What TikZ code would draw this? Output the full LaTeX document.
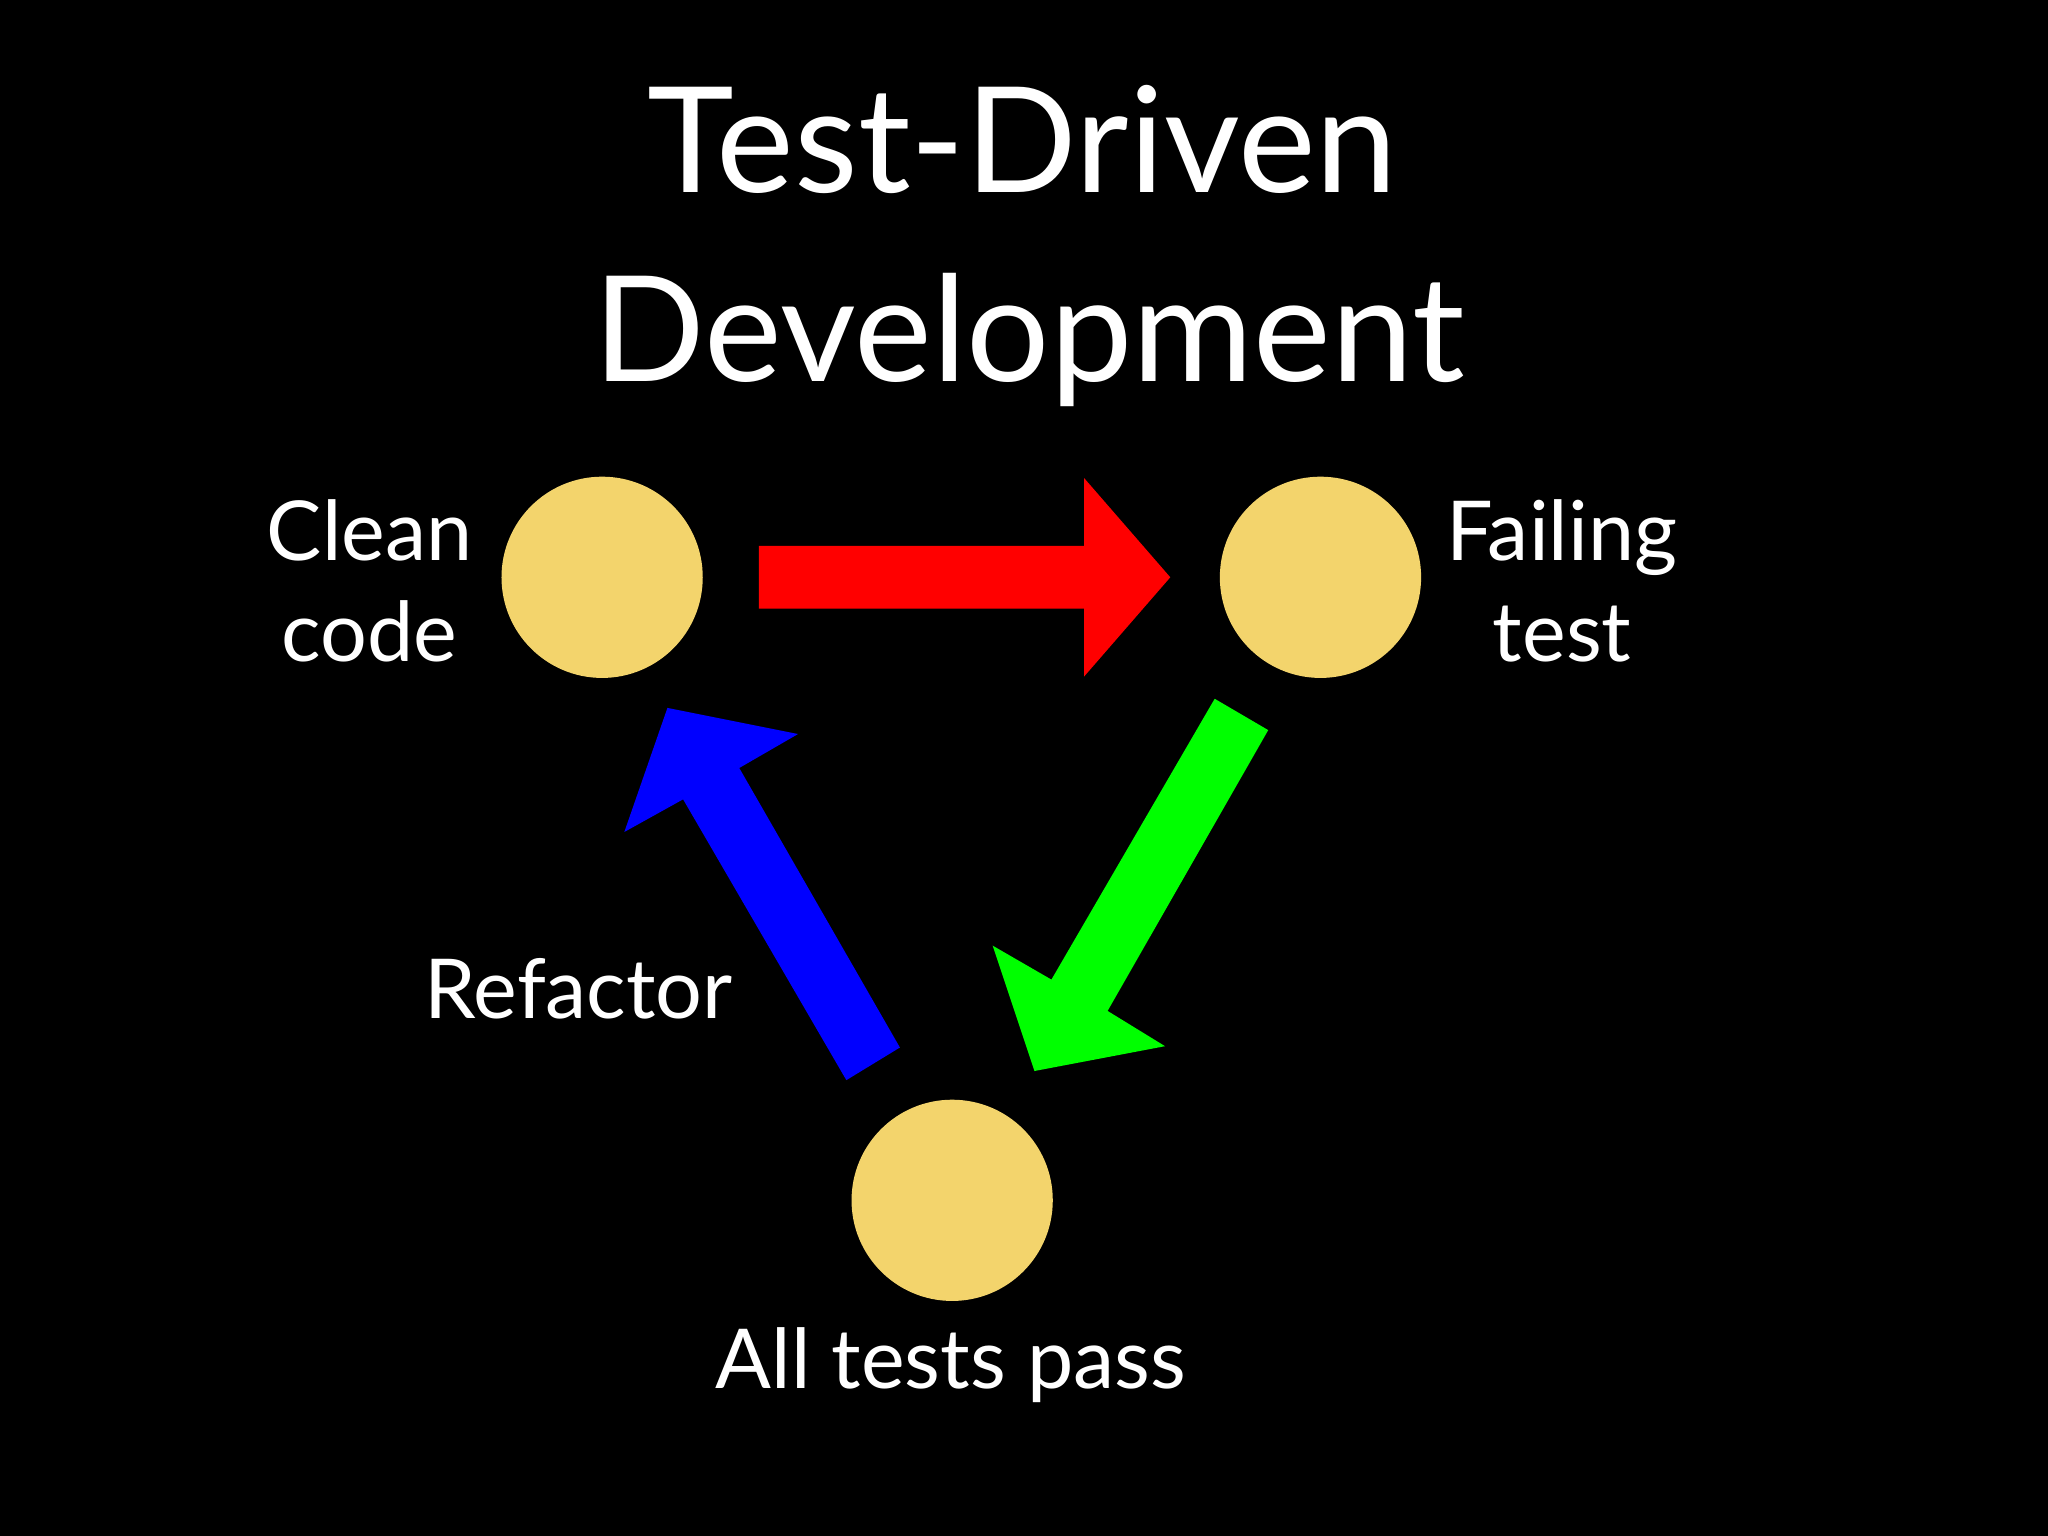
\documentclass[tikz,border=0pt]{standalone}
\usepackage{fontspec}
\setmainfont{Lato}
\begin{document}
\begin{tikzpicture}[x=0.01cm,y=-0.01cm,
  dot/.style={circle,fill=dotc,minimum size=1.54cm,inner sep=0pt},
  lbl/.style={text=white,font=\fontsize{18}{22}\selectfont,align=center},
  ttl/.style={text=white,font=\fontsize{32}{42}\selectfont}]
\definecolor{dotc}{HTML}{F3D46C}
\fill[black] (0,0) rectangle (1568,1176);
\useasboundingbox (0,0) rectangle (1568,1176);
\node[ttl] (t1) at (783,107) {Test-Driven};
\node[ttl] (t2) at (788,260) {Development};
\node[dot] (c) at (461,442) {};
\node[dot] (f) at (1011,442) {};
\node[dot] (p) at (729,919) {};
\node[lbl] (lc) at (283,445) {Clean\\code};
\node[lbl] (lf) at (1196,445) {Failing\\test};
\node[lbl] (lr) at (443,757) {Refactor};
\node[lbl] (lp) at (728,1045) {All tests pass};
\fill[red] (581,418) -- (830,418) -- (830,366) -- (896,442) -- (830,518) -- (830,466) -- (581,466) -- cycle;
\fill[green] (930,535) -- (971,559) -- (848,774) -- (892,801) -- (792,820) -- (760,724) -- (805,750) -- cycle;
\fill[blue] (648,827) -- (689,802) -- (566,588) -- (611,562) -- (511,542) -- (478,637) -- (523,612) -- cycle;
\end{tikzpicture}
\end{document}
